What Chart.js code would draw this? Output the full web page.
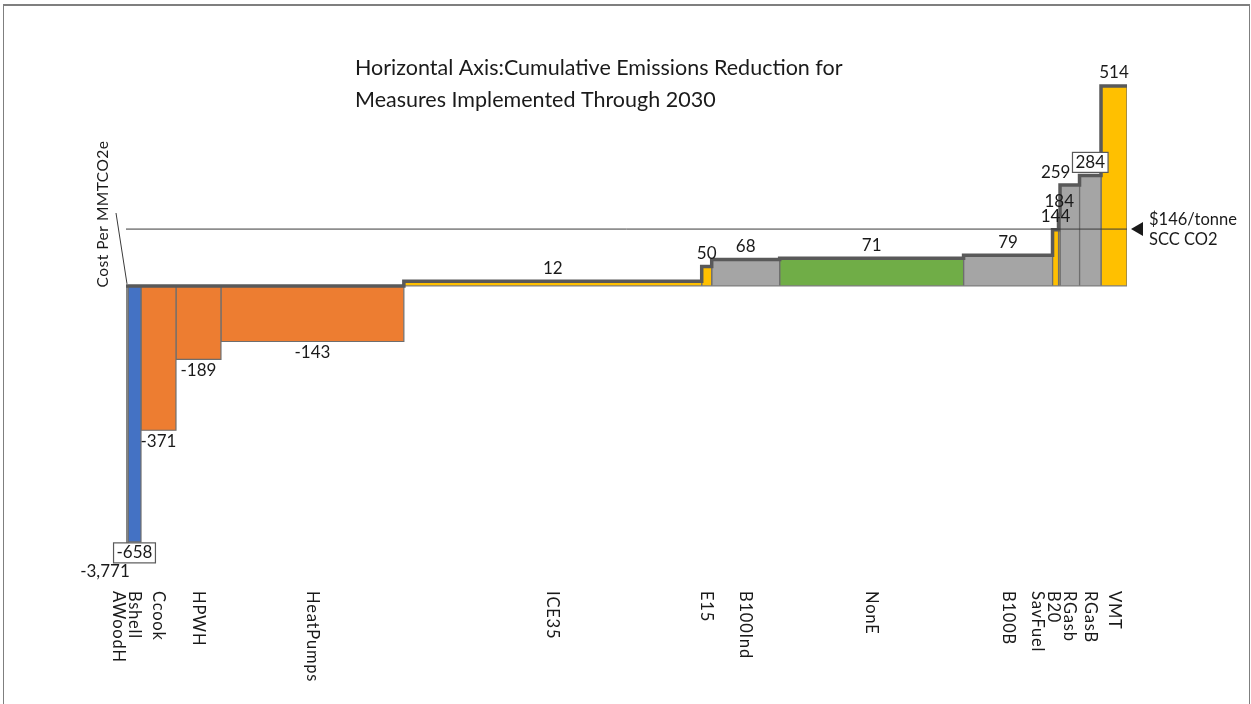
<!DOCTYPE html>
<html>
<head>
<meta charset="utf-8">
<script src="https://cdn.jsdelivr.net/npm/chart.js@4.4.0/dist/chart.umd.min.js"></script>
<style>
    html, body { margin: 0; padding: 0; background: #fff; }
    #wrap { position: relative; width: 1251px; height: 704px; overflow: hidden; }
    #frame { position: absolute; left: 3px; top: 4px; width: 1245px; height: 760px;
             border: 1px solid #7f7f7f; border-top-width: 2px; }
    #macc { position: absolute; left: 0; top: 0; }
</style>
</head>
<body>
<div id="wrap">
    <div id="frame"></div>
    <canvas id="macc" width="1251" height="704"></canvas>
</div>
<script>
// measures, in the order they sit on the curve
const measures = ['AWoodH', 'Bshell', 'Ccook', 'HPWH', 'HeatPumps', 'ICE35', 'E15', 'B100Ind',
                  'NonE', 'B100B', 'SavFuel', 'B20', 'RGasb', 'RGasB', 'VMT'];
// emissions reduction of each measure (MMTCO2e)
const reductions = [0.02, 0.13, 0.35, 0.45, 1.83, 2.98, 0.10, 0.68,
                    1.84, 0.89, 0.06, 0.015, 0.195, 0.215, 0.26];
// cost per MMTCO2e of each measure
const costs = [-3771, -658, -371, -189, -143, 12, 50, 68, 71, 79, 144, 184, 259, 284, 514];
// social cost of carbon reference line
const sccPrice = 146;
const sccLabel = ['$146/tonne', 'SCC CO2'];
const titleLines = ['Horizontal Axis:Cumulative Emissions Reduction for',
                    'Measures Implemented Through 2030'];
const yTitle = 'Cost Per MMTCO2e';
const boxedLabels = ['Bshell', 'RGasB'];

// styles
const FONT = 'Lato, "Noto Sans", sans-serif';
const TEXT = '#1a1a1a';
const OUTLINE = '#595959';
const GRAY = '#a5a5a5', BLUE = '#4472c4', ORANGE = '#ed7d31', YELLOW = '#ffc000', GREEN = '#70ad47';
const barColor = {
    AWoodH: GRAY, Bshell: BLUE, Ccook: ORANGE, HPWH: ORANGE, HeatPumps: ORANGE,
    ICE35: YELLOW, E15: YELLOW, B100Ind: GRAY, NonE: GREEN, B100B: GRAY,
    SavFuel: YELLOW, B20: YELLOW, RGasb: GRAY, RGasB: GRAY, VMT: YELLOW
};

// cumulative x extents of each bar
let cum = 0;
const starts = [], ends = [];
reductions.forEach(w => { starts.push(cum); cum += w; ends.push(cum); });
const total = cum;

const barSets = measures.map((m, i) => ({
    label: m,
    data: [
        {x: starts[i], y: 0},
        {x: starts[i], y: costs[i]},
        {x: ends[i], y: costs[i]},
        {x: ends[i], y: 0}
    ],
    backgroundColor: barColor[m],
    borderColor: '#6e6e6e',
    borderWidth: 1.2,
    fill: 'origin',
    pointRadius: 0,
    tension: 0,
    order: 4
}));

// thick outline along the top of the curve
const stepPoints = [];
measures.forEach((m, i) => {
    const top = Math.max(costs[i], 0);
    stepPoints.push({x: starts[i], y: top}, {x: ends[i], y: top});
});

const datasets = [
    ...barSets,
    {
        label: 'baseline',
        data: [{x: 0, y: 0}, {x: total, y: 0}],
        borderColor: '#7f7f7f', borderWidth: 1.2, pointRadius: 0, fill: false, order: 3
    },
    {
        label: 'curve',
        data: stepPoints,
        borderColor: OUTLINE, borderWidth: 3.5, pointRadius: 0, fill: false, tension: 0, order: 2
    },
    {
        label: 'SCC',
        data: [{x: 0, y: sccPrice}, {x: total, y: sccPrice}],
        borderColor: '#3a3a3a', borderWidth: 1, pointRadius: 0, fill: false, order: 1
    }
];

function boxedText(ctx, text, x, y) {
    const w = ctx.measureText(text).width;
    ctx.fillStyle = '#fff';
    ctx.fillRect(x - w / 2 - 3, y - 10, w + 6, 20);
    ctx.strokeStyle = OUTLINE;
    ctx.lineWidth = 1.2;
    ctx.strokeRect(x - w / 2 - 3, y - 10, w + 6, 20);
    ctx.fillStyle = TEXT;
    ctx.fillText(text, x, y);
}

const overlaps = (a, b) => a.l < b.r && b.l < a.r && a.t < b.b && b.t < a.b;

const annotations = {
    id: 'annotations',
    afterDatasetsDraw(chart) {
        const ctx = chart.ctx;
        const xs = chart.scales.x, ys = chart.scales.y;
        const area = chart.chartArea;
        ctx.save();
        ctx.fillStyle = TEXT;
        ctx.textBaseline = 'middle';

        // value labels: centred on the bar, pushed left when they collide
        ctx.font = '17px ' + FONT;
        ctx.textAlign = 'center';
        const placed = [];
        for (let i = measures.length - 1; i >= 0; i--) {
            const m = measures[i];
            const text = costs[i].toLocaleString('en-US');
            const boxed = boxedLabels.includes(m);
            const w = ctx.measureText(text).width + (boxed ? 6 : 0);
            const h = boxed ? 20 : 14;
            let cx = xs.getPixelForValue((starts[i] + ends[i]) / 2);
            let cy;
            if (costs[i] >= 0) {
                cy = ys.getPixelForValue(costs[i]) - 13;
            } else if (costs[i] < ys.min) {
                cy = area.bottom + 27;
                cx -= 22;
            } else {
                cy = ys.getPixelForValue(costs[i]) + 11;
            }
            let box = {l: cx - w / 2, r: cx + w / 2, t: cy - h / 2, b: cy + h / 2};
            placed.forEach(p => {
                if (overlaps(box, p)) {
                    const shift = box.r - p.l + 2;
                    cx -= shift;
                    box = {l: box.l - shift, r: box.r - shift, t: box.t, b: box.b};
                }
            });
            placed.push(box);
            if (boxed) {
                boxedText(ctx, text, cx, cy);
            } else {
                ctx.fillText(text, cx, cy);
            }
        }

        // category labels, rotated, nudged apart where bars are narrow
        ctx.font = '16.5px ' + FONT;
        ctx.letterSpacing = '0.8px';
        const pos = measures.map((m, i) => xs.getPixelForValue((starts[i] + ends[i]) / 2));
        for (let i = pos.length - 2; i >= 0; i--) {
            if (pos[i] > pos[i + 1] - 16) pos[i] = pos[i + 1] - 16;
        }
        measures.forEach((m, i) => {
            ctx.save();
            ctx.translate(pos[i], area.bottom + 46);
            ctx.rotate(Math.PI / 2);
            ctx.textAlign = 'left';
            ctx.fillText(m, 0, 0);
            ctx.restore();
        });
        ctx.letterSpacing = '0px';

        // SCC marker and label
        const sy = ys.getPixelForValue(sccPrice);
        const tipX = xs.getPixelForValue(total) + 4;
        ctx.beginPath();
        ctx.moveTo(tipX, sy);
        ctx.lineTo(tipX + 12, sy - 7);
        ctx.lineTo(tipX + 12, sy + 7);
        ctx.closePath();
        ctx.fill();
        ctx.font = '16.5px ' + FONT;
        ctx.textAlign = 'left';
        ctx.fillText(sccLabel[0], tipX + 18, sy - 9);
        ctx.fillText(sccLabel[1], tipX + 18, sy + 11);

        // title inside the plot
        ctx.font = '21.5px ' + FONT;
        ctx.fillText(titleLines[0], 355, 68);
        ctx.fillText(titleLines[1], 355, 100);

        // vertical axis title with leader line
        ctx.font = '15.5px ' + FONT;
        ctx.letterSpacing = '0.5px';
        ctx.save();
        ctx.translate(area.left - 23, 214);
        ctx.rotate(-Math.PI / 2);
        ctx.textAlign = 'center';
        ctx.fillText(yTitle, 0, 0);
        ctx.restore();
        ctx.letterSpacing = '0px';
        ctx.strokeStyle = '#3a3a3a';
        ctx.lineWidth = 1;
        ctx.beginPath();
        ctx.moveTo(area.left - 10, 213);
        ctx.lineTo(area.left + 1, ys.getPixelForValue(0) - 2);
        ctx.stroke();

        ctx.restore();
    }
};

new Chart(document.getElementById('macc'), {
    type: 'line',
    data: { datasets: datasets },
    options: {
        responsive: false,
        devicePixelRatio: 1,
        animation: false,
        layout: { padding: { left: 126, right: 124, top: 40, bottom: 159 } },
        scales: {
            x: { type: 'linear', min: 0, max: total, display: false },
            y: { type: 'linear', min: -666, max: 632, display: false }
        },
        plugins: {
            legend: { display: false },
            tooltip: { enabled: false }
        }
    },
    plugins: [annotations]
});
</script>
</body>
</html>
